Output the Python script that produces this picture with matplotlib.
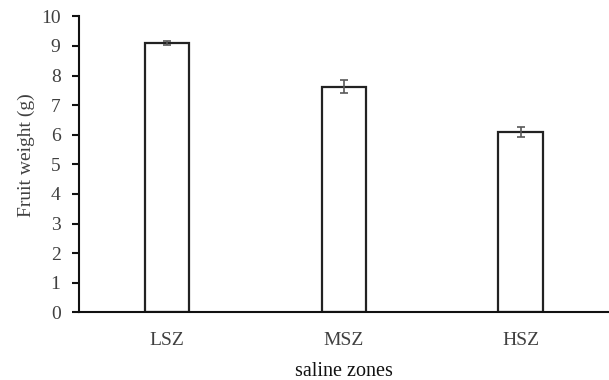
import matplotlib.pyplot as plt
import numpy as np

zones = ["LSZ", "MSZ", "HSZ"]
weights = [9.09, 7.62, 6.10]
errors = [0.07, 0.22, 0.17]

plt.rcParams["font.family"] = ["Liberation Serif", "DejaVu Serif"]

fig, ax = plt.subplots(figsize=(6.09, 3.80), dpi=100)
fig.subplots_adjust(left=0.129, right=1.0, top=0.957, bottom=0.178)

x = np.arange(len(zones))
ax.bar(x, weights, width=0.25, color="white", edgecolor="#222222", linewidth=1.6,
       yerr=errors, capsize=3, error_kw={"ecolor": "#595959", "elinewidth": 1.2, "capthick": 1.2})

ax.set_xlim(-0.5, 2.5)
ax.set_ylim(0, 10)
ax.set_yticks(range(0, 11))
ax.set_xticks(x)
ax.set_xticklabels(zones)

for s in ["top", "right"]:
    ax.spines[s].set_visible(False)
for s in ["left", "bottom"]:
    ax.spines[s].set_linewidth(1.5)
    ax.spines[s].set_color("#111111")

ax.tick_params(axis="y", direction="out", length=5, width=1.5, labelsize=14, colors="#111111",
               labelcolor="#404040", pad=8)
ax.tick_params(axis="x", length=0, labelsize=14, labelcolor="#404040", pad=14)

ax.set_ylabel("Fruit weight (g)", fontsize=14, color="#404040")
ax.yaxis.set_label_coords(-0.083, 0.53)
ax.set_xlabel("saline zones", fontsize=14.5, color="#111111")
ax.xaxis.set_label_coords(0.5, -0.168)

plt.savefig("out.png", dpi=100)
